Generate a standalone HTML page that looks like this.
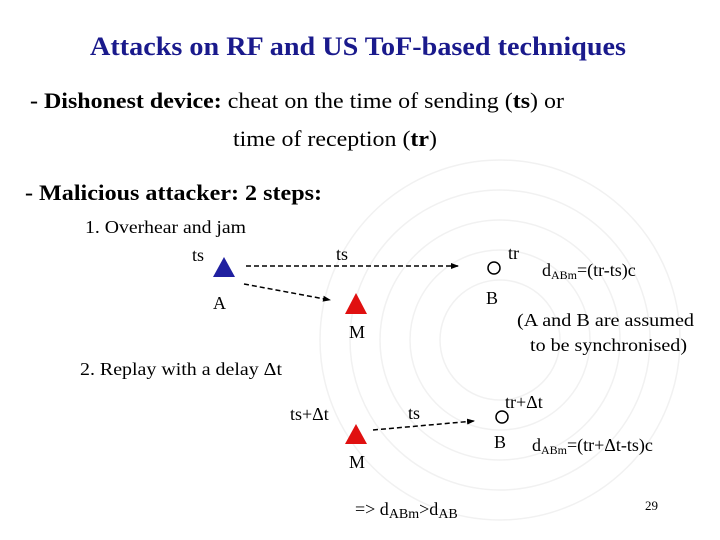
<!DOCTYPE html>
<html><head><meta charset="utf-8"><style>
html,body{margin:0;padding:0;background:#fff;}
svg{display:block;font-family:"Liberation Serif",serif;}
</style></head><body>
<svg width="720" height="540" viewBox="0 0 720 540" xmlns="http://www.w3.org/2000/svg">
<defs>
<marker id="ah" markerWidth="8" markerHeight="8" refX="7" refY="4" orient="auto" markerUnits="userSpaceOnUse">
<path d="M0,1 L8,4 L0,7 Z" fill="#000"/>
</marker>
</defs>
<g fill="none" stroke="#f1f1f1" stroke-width="1.5">
<circle cx="500" cy="340" r="60"/>
<circle cx="500" cy="340" r="90"/>
<circle cx="500" cy="340" r="120"/>
<circle cx="500" cy="340" r="150"/>
<circle cx="500" cy="340" r="180"/>
</g>
<text x="90" y="55" font-size="26" font-weight="bold" fill="#1a1a8c" textLength="536" lengthAdjust="spacingAndGlyphs">Attacks on RF and US ToF-based techniques</text>
<text x="30" y="108" font-size="22" textLength="534" lengthAdjust="spacingAndGlyphs"><tspan font-weight="bold">- Dishonest device:</tspan> cheat on the time of sending (<tspan font-weight="bold">ts</tspan>) or</text>
<text x="233" y="146" font-size="22" textLength="204" lengthAdjust="spacingAndGlyphs">time of reception (<tspan font-weight="bold">tr</tspan>)</text>
<text x="25" y="200" font-size="22" font-weight="bold" textLength="297" lengthAdjust="spacingAndGlyphs">- Malicious attacker: 2 steps:</text>
<text x="85" y="233" font-size="18" textLength="161" lengthAdjust="spacingAndGlyphs">1. Overhear and jam</text>
<text x="192" y="261" font-size="18">ts</text>
<polygon points="213,277 224,257 235,277" fill="#2020a0"/>
<line x1="246" y1="266" x2="458" y2="266" stroke="#000" stroke-width="1.5" stroke-dasharray="5,3" marker-end="url(#ah)"/>
<text x="336" y="260" font-size="18">ts</text>
<circle cx="494" cy="268" r="6" fill="none" stroke="#000" stroke-width="1.5"/>
<text x="508" y="259" font-size="18">tr</text>
<text x="542" y="276" font-size="18">d<tspan font-size="12" dy="3">ABm</tspan><tspan dy="-3">=(tr-ts)c</tspan></text>
<text x="213" y="309" font-size="18">A</text>
<text x="486" y="304" font-size="18">B</text>
<line x1="244" y1="284" x2="330" y2="300" stroke="#000" stroke-width="1.5" stroke-dasharray="5,3" marker-end="url(#ah)"/>
<polygon points="345,314 356,293 367,314" fill="#e01010"/>
<text x="349" y="338" font-size="18">M</text>
<text x="517" y="326" font-size="18" textLength="177" lengthAdjust="spacingAndGlyphs">(A and B are assumed</text>
<text x="530" y="351" font-size="18" textLength="157" lengthAdjust="spacingAndGlyphs">to be synchronised)</text>
<text x="80" y="375" font-size="18" textLength="202" lengthAdjust="spacingAndGlyphs">2. Replay with a delay Δt</text>
<text x="290" y="420" font-size="18">ts+Δt</text>
<polygon points="345,444 356,424 367,444" fill="#e01010"/>
<text x="349" y="468" font-size="18">M</text>
<text x="408" y="419" font-size="18">ts</text>
<line x1="373" y1="430" x2="474" y2="421" stroke="#000" stroke-width="1.5" stroke-dasharray="5,3" marker-end="url(#ah)"/>
<circle cx="502" cy="417" r="6" fill="none" stroke="#000" stroke-width="1.5"/>
<text x="505" y="408" font-size="18">tr+Δt</text>
<text x="494" y="448" font-size="18">B</text>
<text x="532" y="451" font-size="18">d<tspan font-size="12" dy="3">ABm</tspan><tspan dy="-3">=(tr+Δt-ts)c</tspan></text>
<text x="355" y="515" font-size="18">=&gt; d<tspan font-size="14" dy="3">ABm</tspan><tspan dy="-3">&gt;d</tspan><tspan font-size="14" dy="3">AB</tspan></text>
<text x="645" y="510" font-size="13">29</text>
</svg>
</body></html>
